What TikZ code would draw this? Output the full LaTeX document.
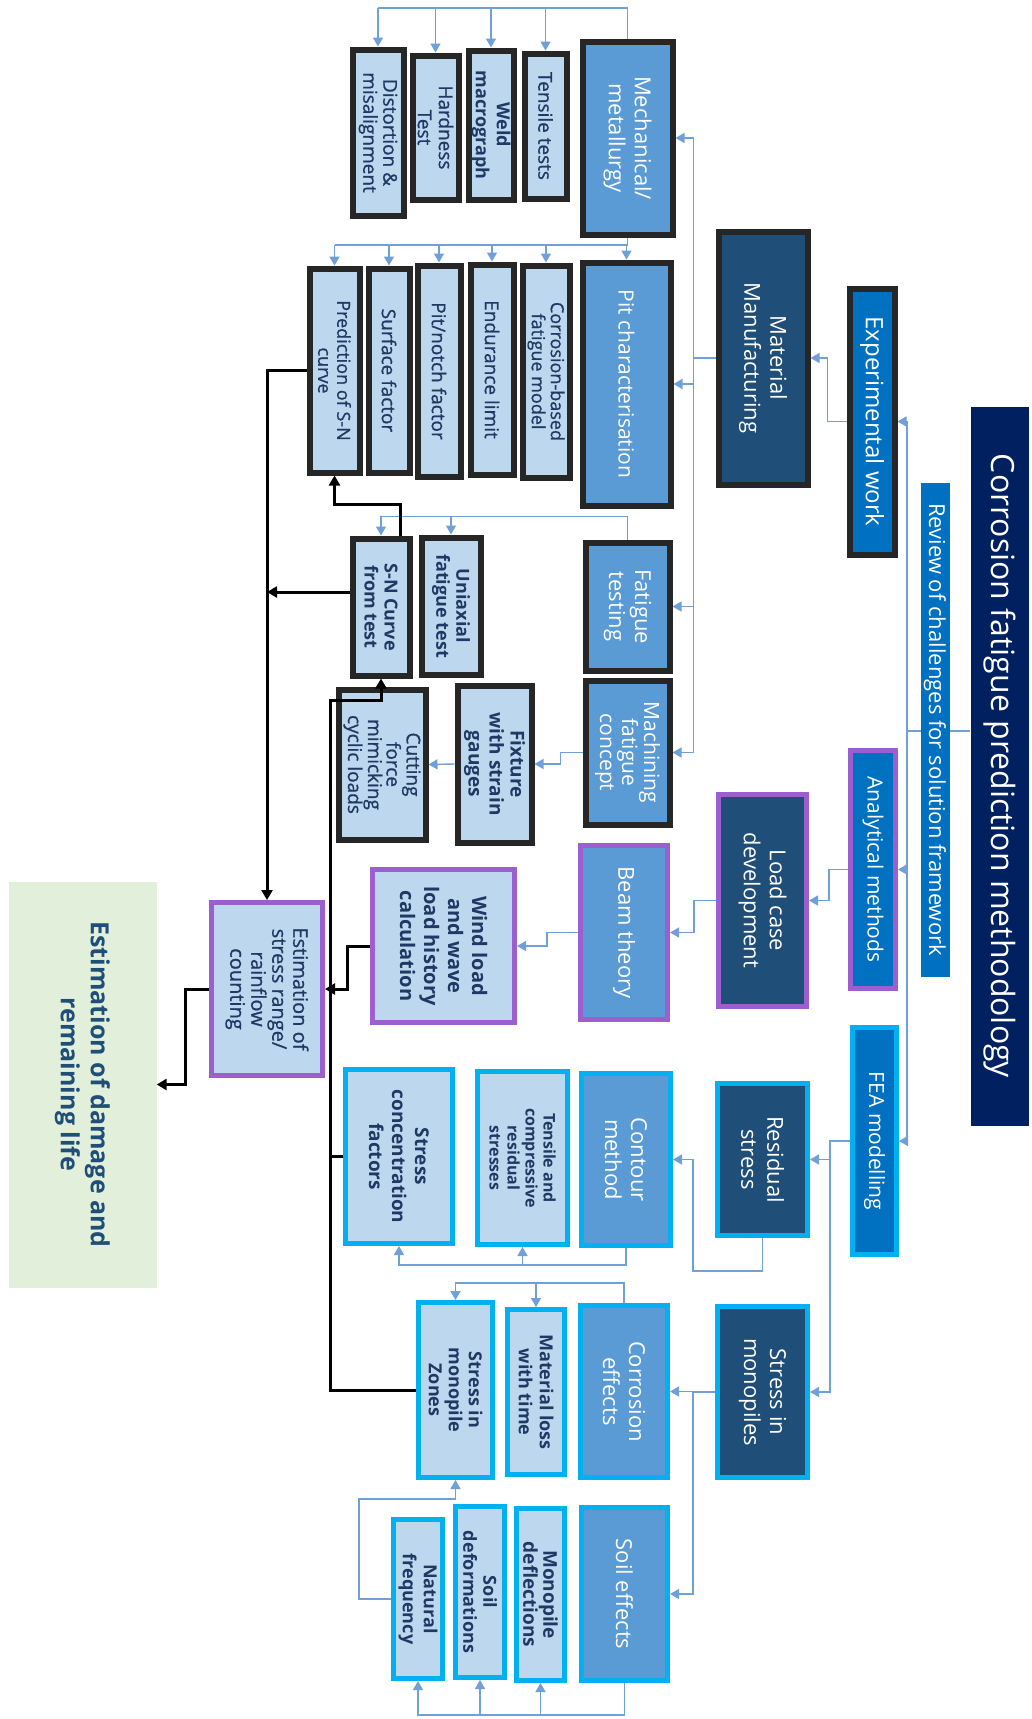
\documentclass[tikz,border=0pt]{standalone}
\usepackage{fontspec}
\setmainfont{Open Sans}
\newfontfamily\medf[FakeBold=0.8]{Open Sans}
\usetikzlibrary{arrows.meta}
\definecolor{navy}{HTML}{002060}
\definecolor{rev}{HTML}{0070C0}
\definecolor{dk}{HTML}{1F4E79}
\definecolor{md}{HTML}{5B9BD5}
\definecolor{lt}{HTML}{BDD7EE}
\definecolor{txt}{HTML}{1F3864}
\definecolor{bk}{HTML}{262626}
\definecolor{pu}{HTML}{9B5FCF}
\definecolor{cy}{HTML}{00B0F0}
\definecolor{gr}{HTML}{E2EFDA}
\definecolor{ln}{HTML}{6FA0D8}
\pgfdeclarelayer{bg}
\pgfsetlayers{bg,main}
\newcommand\bx[8]{%
 \pgfmathsetmacro\cx{(#4+#6)/2}%
 \pgfmathsetmacro\cy{(#5+#7)/2}%
 \pgfmathsetmacro\ww{#6-#4-5}%
 \pgfmathsetmacro\hh{#7-#5-5}%
 \node[rectangle,inner sep=0pt,#1,minimum width=\ww pt,minimum height=\hh pt] (#3) at (\cx,\cy) {};
 \node[rotate=-90,align=center,inner sep=0pt,#2] (#3t) at (#3.center) {#8};}
\tikzset{
 bb/.style={draw=bk,line width=6pt},
 pb/.style={draw=pu,line width=5pt},
 cb/.style={draw=cy,line width=5pt},
 fa/.style={fill=rev}, fb/.style={fill=dk}, fc/.style={fill=md}, fd/.style={fill=lt},
 wt/.style={text=white,font=\fontsize{22}{26}\selectfont},
 lf/.style={text=txt,font=\medf\fontsize{19}{21}\selectfont},
 lfb/.style={text=txt,font=\fontsize{18}{21}\selectfont\bfseries},
 bl/.style={draw=ln,line width=1.4pt},
 bla/.style={bl,-{Triangle[length=9pt,width=10pt]}},
 blk/.style={draw=black,line width=3pt,-{Triangle[length=10pt,width=11pt]}},
 blkl/.style={draw=black,line width=3pt}
}
\begin{document}
\begin{tikzpicture}[x=1pt,y=-1pt]
\useasboundingbox (0,0) rectangle (1031,1719);
% top level
\bx{fill=navy}{text=white,font=\fontsize{32}{36}\selectfont}{title}{968}{404}{1031}{1128}{Corrosion fatigue prediction methodology}
\bx{fa}{text=white,font=\fontsize{22}{24}\selectfont}{review}{918}{480}{952}{979}{Review of challenges for solution framework}
\bx{fa,bb}{wt,font=\fontsize{24}{26}\selectfont}{exp}{847}{286}{897}{557}{Experimental work}
\bx{fa,pb}{wt,font=\fontsize{21}{25}\selectfont}{anal}{848}{748}{898}{991}{Analytical methods}
\bx{fa,cb}{wt,font=\fontsize{21}{25}\selectfont}{fea}{850}{1025}{899}{1257}{FEA modelling}
% level 2
\bx{fb,bb}{wt}{mm}{716}{229}{810}{487}{Material\\Manufacturing}
\bx{fb,pb}{wt}{lcd}{716}{792}{809}{1009}{Load case\\development}
\bx{fb,cb}{wt}{resid}{715}{1081}{810}{1238}{Residual\\stress}
\bx{fb,cb}{wt}{smon}{715}{1304}{810}{1480}{Stress in\\monopiles}
% level 3
\bx{fc,bb}{wt}{mech}{580}{39}{675}{237}{Mechanical/\\metallurgy}
\bx{fc,bb}{wt,font=\fontsize{21}{26}\selectfont}{pitc}{580}{260}{673}{508}{Pit characterisation}
\bx{fc,bb}{wt}{fatt}{583}{540}{672}{673}{Fatigue\\testing}
\bx{fc,bb}{wt,font=\fontsize{21}{22}\selectfont}{mach}{583}{678}{672}{827}{Machining\\fatigue\\concept}
\bx{fc,pb}{wt}{beam}{578}{843}{670}{1022}{Beam theory}
\bx{fc,cb}{wt}{cont}{579}{1071}{673}{1248}{Contour\\method}
\bx{fc,cb}{wt}{corr}{578}{1303}{670}{1480}{Corrosion\\effects}
\bx{fc,cb}{wt}{soil}{579}{1505}{670}{1683}{Soil effects}
% leaves (black)
\bx{fd,bb}{lf}{tens}{522}{51}{569}{201}{Tensile tests}
\bx{fd,bb}{lfb}{weld}{466}{48}{516}{202}{Weld\\macrograph}
\bx{fd,bb}{lf}{hard}{410}{53}{461}{202}{Hardness\\Test}
\bx{fd,bb}{lf,font=\medf\fontsize{19}{20}\selectfont}{dist}{350}{47}{406}{218}{Distortion \&\\misalignment}
\bx{fd,bb}{lf,font=\medf\fontsize{18}{19}\selectfont}{corb}{520}{263}{572}{480}{Corrosion-based\\fatigue model}
\bx{fd,bb}{lf}{endu}{468}{262}{516}{477}{Endurance limit}
\bx{fd,bb}{lf}{pitn}{415}{263}{463}{479}{Pit/notch factor}
\bx{fd,bb}{lf}{surf}{366}{266}{412}{475}{Surface factor}
\bx{fd,bb}{lf,font=\medf\fontsize{18}{19}\selectfont}{pred}{307}{266}{362}{475}{Prediction of S-N\\curve}
\bx{fd,bb}{lfb,font=\fontsize{18}{20}\selectfont\bfseries}{sn}{350}{536}{412}{678}{S-N Curve\\from test}
\bx{fd,bb}{lfb,font=\fontsize{18}{20}\selectfont\bfseries}{uni}{419}{535}{483}{677}{Uniaxial\\fatigue test}
\bx{fd,bb}{lfb,font=\fontsize{19}{21}\selectfont\bfseries}{fix}{455}{683}{534}{845}{Fixture\\with strain\\gauges}
\bx{fd,bb}{lf,font=\medf\fontsize{19}{18.5}\selectfont}{cut}{336}{687}{428}{842}{Cutting\\force\\mimicking\\cyclic loads}
% leaves (purple)
\bx{fd,pb}{lfb,font=\fontsize{20}{24}\selectfont\bfseries}{wind}{370}{867}{517}{1025}{Wind load\\and wave\\load history\\calculation}
\bx{fd,pb}{lf,font=\medf\fontsize{20}{21}\selectfont}{est}{209}{900}{325}{1078}{Estimation of\\stress range/\\rainflow\\counting}
% leaves (cyan)
\bx{fd,cb}{lfb,font=\fontsize{19}{23}\selectfont\bfseries}{scf}{343}{1067}{455}{1246}{Stress\\concentration\\factors}
\bx{fd,cb}{lfb,font=\fontsize{16}{18}\selectfont\bfseries}{tcr}{475}{1069}{570}{1247}{Tensile and\\compressive\\residual\\stresses}
\bx{fd,cb}{lfb,font=\fontsize{18}{20}\selectfont\bfseries}{zones}{416}{1300}{495}{1480}{Stress in\\monopile\\Zones}
\bx{fd,cb}{lfb}{mloss}{505}{1307}{567}{1477}{Material loss\\with time}
\bx{fd,cb}{lfb,font=\fontsize{19}{20}\selectfont\bfseries}{mdef}{514}{1506}{567}{1683}{Monopile\\deflections}
\bx{fd,cb}{lfb,font=\fontsize{18}{20}\selectfont\bfseries}{sdef}{453}{1504}{507}{1680}{Soil\\deformations}
\bx{fd,cb}{lfb}{nat}{391}{1517}{445}{1681}{Natural\\frequency}
% final
\bx{fill=gr}{text=dk,font=\fontsize{25}{30}\selectfont\bfseries}{green}{6}{879}{159}{1290}{Estimation of damage and\\remaining life}

\begin{pgfonlayer}{bg}
\fill[white] (0,0) rectangle (1031,1719);
% title trunk
\coordinate (tj) at (907,731);
\draw[bl] (title.west|-tj) -- (tj);
\draw[bla] (tj) |- (exp.east);
\draw[bla] (tj) |- (anal.east);
\draw[bla] (tj) |- (fea.east);
% experimental
\draw[bla] (exp.west) -- ++(-19,0) |- (mm.east);
\draw[bla] (mm.west) -- ++(-22,0) |- (mech.east);
\draw[bla] (mm.west) -- ++(-22,0) |- (pitc.east);
\draw[bla] (mm.west) -- ++(-22,0) |- (fatt.east);
\draw[bla] (mm.west) -- ++(-22,0) |- (mach.east);
% mech children
\coordinate (mt) at (0,8);
\draw[bl] (mech.north) -- (mech.north|-mt) -- (dist.north|-mt);
\foreach \n in {tens,weld,hard,dist} \draw[bla] (\n.north|-mt) -- (\n.north);
\coordinate (mb) at (0,245);
\draw[bl] (mech.south) -- (mech.south|-mb) -- (pred.north|-mb);
\foreach \n in {pitc,corb,endu,pitn,surf,pred} \draw[bla] (\n.north|-mb) -- (\n.north);
% fatigue testing
\draw[bla] (fatt.north) -- ++(0,-23) -| (sn.north);
\draw[bla] (fatt.north) -- ++(0,-23) -| (uni.north);
% machining
\draw[bla] (mach.west) -- ++(-22,0) |- (fix.east);
\draw[bla] (fix.west) -- (cut.east);
% analytical
\draw[bla] (anal.west) -- ++(-19,0) |- (lcd.east);
\draw[bla] (lcd.west) -- ++(-22,0) |- (beam.east);
\draw[bla] (beam.west) -- ++(-31,0) |- (wind.east);
% FEA
\draw[bla] (fea.west) -- ++(-20,0) |- (resid.east);
\draw[bla] (fea.west) -- ++(-20,0) |- (smon.east);
\draw[bla] (resid.south) |- (693,1271) |- (cont.east);
\draw[bla] (cont.south) -- ++(0,17) -| (scf.south);
\draw[bla] (cont.south) -- ++(0,17) -| (tcr.south);
\draw[bla] (smon.west) -- ++(-22,0) |- (corr.east);
\draw[bla] (smon.west) -- ++(-22,0) |- (soil.east);
\draw[bla] (corr.north) -- ++(0,-20) -| (zones.north);
\draw[bla] (corr.north) -- ++(0,-20) -| (mloss.north);
\draw[bla] (soil.south) -- ++(0,32) -| (mdef.south);
\draw[bla] (soil.south) -- ++(0,32) -| (sdef.south);
\draw[bla] (soil.south) -- ++(0,32) -| (nat.south);
\draw[bla] (nat.west) -| (359,1499) -| (zones.south);
\end{pgfonlayer}
% black connectors
\draw[blk] (pred.west) -| (est.north);
\draw[blk] ([yshift=15pt]sn.west) coordinate (snw) -- (snw -| est.north);
\draw[blk] ([xshift=19pt]sn.north) -- ++(0,-31) -| (pred.south);
\coordinate (t2) at (330,700);
\draw[blk] (zones.west) -| (t2) -| (sn.south);
\draw[blkl] (scf.west) -- (scf.west -| t2);
\draw[blk] (wind.west) -- ++(-23,0) |- (est.east);
\draw[blk] (est.west) -- ++(-24,0) |- (green.east);
\end{tikzpicture}
\end{document}
